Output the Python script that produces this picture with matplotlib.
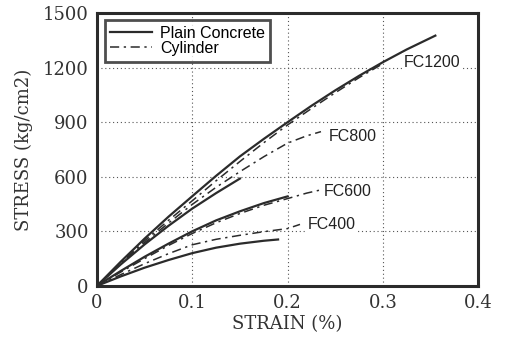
import matplotlib.pyplot as plt

# strain (%) / stress (kg/cm2)
fc1200_strain = [0, 0.025, 0.05, 0.075, 0.1, 0.125, 0.15, 0.175, 0.2, 0.225, 0.25, 0.275, 0.3, 0.325, 0.355]
fc1200_stress = [0, 133, 260, 380, 493, 605, 712, 808, 900, 990, 1075, 1155, 1230, 1300, 1376]
fc1200_cyl_strain = [0, 0.025, 0.05, 0.075, 0.1, 0.125, 0.15, 0.175, 0.2, 0.225, 0.25, 0.275, 0.3]
fc1200_cyl_stress = [0, 125, 248, 360, 468, 578, 684, 787, 885, 975, 1062, 1145, 1222]

fc800_strain = [0, 0.025, 0.05, 0.075, 0.1, 0.125, 0.15]
fc800_stress = [0, 118, 228, 330, 425, 510, 590]
fc800_cyl_strain = [0, 0.025, 0.05, 0.075, 0.1, 0.125, 0.15, 0.175, 0.2, 0.22, 0.235]
fc800_cyl_stress = [0, 122, 238, 345, 448, 542, 628, 710, 785, 825, 848]

fc600_strain = [0, 0.025, 0.05, 0.075, 0.1, 0.125, 0.15, 0.175, 0.2]
fc600_stress = [0, 82, 160, 232, 300, 360, 410, 455, 492]
fc600_cyl_strain = [0, 0.025, 0.05, 0.075, 0.1, 0.125, 0.15, 0.175, 0.2, 0.22, 0.235]
fc600_cyl_stress = [0, 76, 150, 222, 288, 347, 398, 443, 480, 510, 528]

fc400_strain = [0, 0.025, 0.05, 0.075, 0.1, 0.125, 0.15, 0.175, 0.19]
fc400_stress = [0, 52, 100, 142, 180, 210, 232, 248, 255]
fc400_cyl_strain = [0, 0.025, 0.05, 0.075, 0.1, 0.125, 0.15, 0.175, 0.2, 0.213]
fc400_cyl_stress = [0, 62, 122, 177, 226, 256, 278, 298, 315, 338]

labels = ["FC1200", "FC800", "FC600", "FC400"]
label_pos = [(0.322, 1230), (0.243, 820), (0.238, 520), (0.221, 336)]

x_ticks = [0, 0.1, 0.2, 0.3, 0.4]
x_tick_labels = ["0", "0.1", "0.2", "0.3", "0.4"]
y_ticks = [0, 300, 600, 900, 1200, 1500]

fig = plt.figure(figsize=(5.05, 3.44), dpi=100)
ax = fig.add_axes([0.192, 0.169, 0.755, 0.793])

line_col = "#2b2b2b"
solid = [(fc1200_strain, fc1200_stress), (fc800_strain, fc800_stress),
         (fc600_strain, fc600_stress), (fc400_strain, fc400_stress)]
dashed = [(fc1200_cyl_strain, fc1200_cyl_stress), (fc800_cyl_strain, fc800_cyl_stress),
          (fc600_cyl_strain, fc600_cyl_stress), (fc400_cyl_strain, fc400_cyl_stress)]

for i, (x, y) in enumerate(solid):
    ax.plot(x, y, color=line_col, lw=1.6, label="Plain Concrete" if i == 0 else None)
for i, (x, y) in enumerate(dashed):
    ax.plot(x, y, color=line_col, lw=1.1, dashes=(6, 3, 1.5, 3),
            label="Cylinder" if i == 0 else None)

for name, (lx, ly) in zip(labels, label_pos):
    ax.text(lx, ly, name, fontsize=11.5, family="Liberation Sans", va="center",
            ha="left", color="#222222",
            bbox=dict(facecolor="white", edgecolor="none", pad=1))

ax.set_xlim(0, 0.4)
ax.set_ylim(0, 1500)
ax.set_xticks(x_ticks)
ax.set_xticklabels(x_tick_labels)
ax.set_yticks(y_ticks)
ax.tick_params(length=0, labelsize=13, pad=6)
for lab in ax.get_xticklabels() + ax.get_yticklabels():
    lab.set_family("DejaVu Serif")
    lab.set_color("#333333")
ax.grid(True, linestyle=(0, (1, 2.5)), color="#555555", lw=0.8)
for s in ax.spines.values():
    s.set_linewidth(2.2)
    s.set_color("#2b2b2b")

ax.set_xlabel("STRAIN (%)", fontsize=13, family="DejaVu Serif", color="#333333", labelpad=2)
ax.set_ylabel("STRESS (kg/cm2)", fontsize=13, family="DejaVu Serif", color="#333333", labelpad=7)

leg = ax.legend(loc="upper left", bbox_to_anchor=(0.012, 0.985), frameon=True, fancybox=False,
                prop={"family": "Liberation Sans", "size": 11.5}, handlelength=2.6,
                borderpad=0.35, labelspacing=0.0, handletextpad=0.5, borderaxespad=0.2)
leg.get_frame().set_edgecolor("#222222")
leg.get_frame().set_linewidth(2.0)

fig.savefig("out.png", dpi=100)
